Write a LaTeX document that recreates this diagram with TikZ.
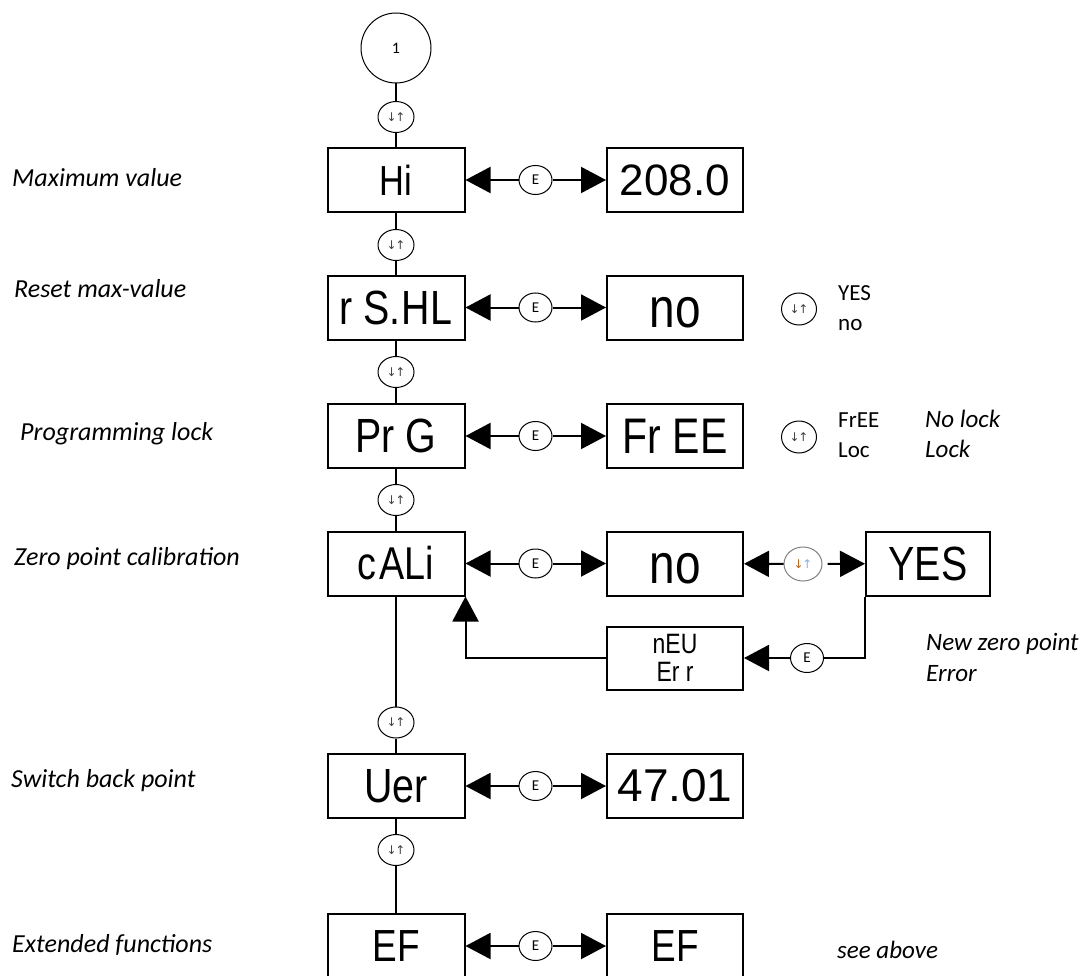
\documentclass[tikz,border=0pt]{standalone}
\usepackage{fontspec}
\setmainfont{Carlito}
\newfontfamily\dispfont[FakeStretch=0.82]{Liberation Sans}
\newfontfamily\digfont{Liberation Sans}
\newfontfamily\arrfont{DejaVu Sans}
\usetikzlibrary{arrows.meta,shapes.geometric}
\newcommand\fsz[1]{\fontsize{#1}{#1}\selectfont}
\newcommand\updown{↓\kern-1.5pt↑}
\definecolor{arrdown}{HTML}{B5651D}
\definecolor{arrup}{HTML}{7FB2E5}
\begin{document}
\begin{tikzpicture}[x=1pt,y=-1pt,
  disp/.style={draw,line width=2pt,minimum width=137pt,minimum height=64pt,inner sep=0pt,font=\dispfont\fsz{48}},
  lowtext/.style={text height=39pt,text depth=0pt},
  keyE/.style={draw,ellipse,line width=1pt,minimum width=33pt,minimum height=29pt,inner sep=0pt,font=\fsz{15}},
  keyUD/.style={draw,ellipse,line width=1pt,minimum width=36pt,minimum height=31pt,inner sep=0pt,font=\arrfont\fsz{12}\color{black!75}},
  conn/.style={line width=2pt},
  tip/.style={line width=2pt,-{Triangle[length=25pt,width=26pt]}},
  llab/.style={anchor=base west,inner sep=0pt,font=\itshape\fsz{26}},
  rlab/.style={anchor=base west,inner sep=0pt,font=\fsz{23}},
  rilab/.style={anchor=base west,inner sep=0pt,font=\itshape\fsz{25}}
]
\useasboundingbox (0,0) rectangle (1091,976);

% entry point
\node[draw,circle,line width=1pt,minimum size=70pt,inner sep=0pt,font=\fsz{16}] (c1) at (396,48) {1};

% main column of menu items
\node[keyUD] (u1) at (396,117) {\updown};
\node[disp,font=\dispfont\fsz{42}] (hi) at (396,180) {Hi};
\node[keyUD] (u2) at (396,245) {\updown};
\node[disp] (rshl) at (396,307.5) {r S.\kern1pt HL};
\node[keyUD] (u3) at (396,372) {\updown};
\node[disp] (prg) at (396,436) {Pr G};
\node[keyUD] (u4) at (396,500) {\updown};
\node[disp,font=\dispfont\fsz{46}] (cali) at (396,563.5) {c\kern3pt ALi};
\node[keyUD] (u5) at (396,722.5) {\updown};
\node[disp] (uer) at (396,786) {Uer};
\node[keyUD] (u6) at (396,850) {\updown};
\node[disp,font=\dispfont\fsz{45}] (ef) at (396,946) {EF};

\draw[conn] (c1) -- (u1);
\draw[conn] (u1) -- (hi);
\draw[conn] (hi) -- (u2);
\draw[conn] (u2) -- (rshl);
\draw[conn] (rshl) -- (u3);
\draw[conn] (u3) -- (prg);
\draw[conn] (prg) -- (u4);
\draw[conn] (u4) -- (cali);
\draw[conn] (cali) -- (u5);
\draw[conn] (u5) -- (uer);
\draw[conn] (uer) -- (u6);
\draw[conn] (u6) -- (ef);

% value column
\node[disp,minimum width=136pt,font=\digfont\fsz{44}] (hiv) at (675,180) {208.0};
\node[disp,lowtext,minimum width=136pt,font=\dispfont\fsz{56}] (rshlv) at (675,307.5) {no};
\node[disp,minimum width=136pt,font=\dispfont\fsz{50}] (prgv) at (675,436) {Fr EE};
\node[disp,lowtext,minimum width=136pt,font=\dispfont\fsz{56}] (caliv) at (675,563.5) {no};
\node[disp,minimum width=136pt,font=\digfont\fsz{46}] (uerv) at (675,786) {47.01};
\node[disp,minimum width=136pt,font=\dispfont\fsz{45}] (efv) at (675,946) {EF};

% enter keys between item and value
\foreach \r/\a/\b in {180/hi/hiv,307.5/rshl/rshlv,436/prg/prgv,563.5/cali/caliv,786/uer/uerv,946/ef/efv}{
  \node[keyE] (e-\a) at (535.5,\r) {E};
  \draw[tip] (e-\a) -- (\a);
  \draw[tip] (e-\a) -- (\b);
}

% calibration branch
\node[disp,minimum width=124pt,font=\dispfont\fsz{48}] (yes) at (928,563.5) {YES};
\node[keyUD,draw=black!50,minimum width=38pt,minimum height=34pt] (ucal) at (803,564)
  {\textcolor{arrdown}{↓}\kern-1.5pt\textcolor{arrup}{↑}};
\draw[tip] (ucal) -- (caliv);
\draw[tip,shorten <=5pt] (ucal) -- (yes);

\node[disp,minimum width=136pt,minimum height=63pt,align=center,font=\dispfont\fsz{28}] (neu) at (675,658)
  {\fontsize{28}{30}\selectfont nEU\\Er r};
\node[keyE] (e-neu) at (807,658) {E};
\draw[conn] (yes.south west) |- (e-neu);
\draw[tip] (e-neu) -- (neu);
\draw[tip] (neu.west) -| (cali.south east);

% selection hints
\node[keyUD,minimum width=35pt,minimum height=32pt] (s2) at (799,309) {\updown};
\node[rlab] (s2a) at (838,300) {YES};
\node[rlab] (s2b) at (838,330) {no};

\node[keyUD,minimum width=35pt,minimum height=32pt] (s3) at (799,437) {\updown};
\node[rlab] (s3a) at (838,427) {FrEE};
\node[rlab] (s3b) at (838,457) {Loc};
\node[rilab] (s3c) at (925,427) {No lock};
\node[rilab] (s3d) at (925,457) {Lock};

\node[rilab] (n1) at (926,650) {New zero point};
\node[rilab] (n2) at (926,681) {Error};
\node[rilab] (n3) at (837,958) {see above};

% item descriptions
\node[llab] (l1) at (12,187) {Maximum value};
\node[llab] (l2) at (14,297) {Reset max-value};
\node[llab] (l3) at (20,440) {Programming lock};
\node[llab] (l4) at (14,565) {Zero point calibration};
\node[llab] (l5) at (11,787) {Switch back point};
\node[llab] (l6) at (12,952) {Extended functions};
\end{tikzpicture}
\end{document}
